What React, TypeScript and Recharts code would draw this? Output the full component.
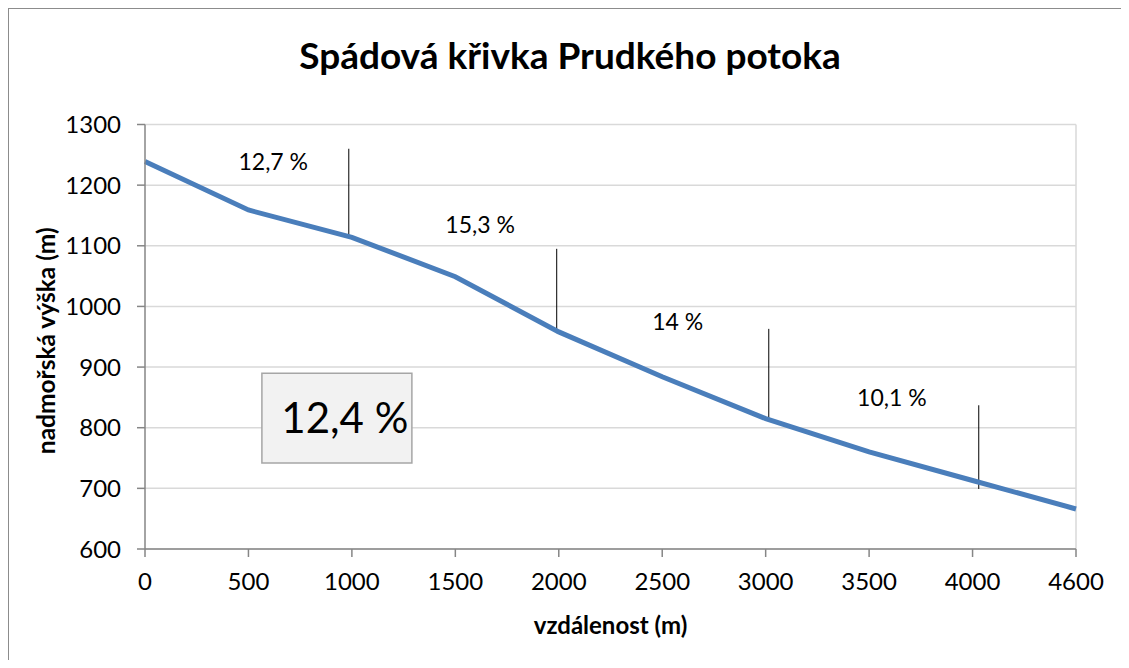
import React from 'react';
import {
  LineChart, Line, XAxis, YAxis, CartesianGrid, ReferenceLine, ReferenceArea, ReferenceDot, Label,
} from 'recharts';

const categories = ['0', '500', '1000', '1500', '2000', '2500', '3000', '3500', '4000', '4600'];
const elevation = [1239, 1159, 1114, 1049, 958, 884, 815, 760, 713, 666];
const yTicks = [600, 700, 800, 900, 1000, 1100, 1200, 1300];

// slope annotation marks (x in category index units, y in metres)
const markX = [1.97, 3.98, 6.03, 8.06];
const markTop = [1260, 1095, 963, 837];
const markBottom = [1116, 956, 813, 699];
const slopeLabels = ['12,7 %', '15,3 %', '14 %', '10,1 %'];
const slopeLabelX = [1.24, 3.24, 5.15, 7.22];
const slopeLabelY = [1238, 1134, 974, 849];

const averageLabel = '12,4 %';
const averageBox = { x1: 1.13, x2: 2.58, y1: 742, y2: 890 };

const data = categories.map((c, i) => ({ i, c, v: elevation[i] }));

const FONT = 'Lato, "Open Sans", sans-serif';

export default function App() {
  return (
    <div
      style={{
        position: 'relative',
        width: 1112,
        height: 651,
        borderTop: '1px solid #8c8c8c',
        borderLeft: '1px solid #8c8c8c',
        borderRight: '1px solid #8c8c8c',
        fontFamily: FONT,
        background: '#fff',
      }}
    >
      <div
        style={{
          position: 'absolute',
          left: 10,
          right: 0,
          top: 24,
          textAlign: 'center',
          fontFamily: FONT,
          fontWeight: 700,
          fontSize: 37,
          color: '#000',
          lineHeight: '44px',
        }}
      >
        Spádová křivka Prudkého potoka
      </div>
      <LineChart
        width={1112}
        height={643}
        data={data}
        margin={{ top: 115.5, right: 45, bottom: 18, left: 0 }}
        style={{ fontFamily: FONT }}
      >
        <CartesianGrid vertical={false} stroke="#d9d9d9" strokeWidth={1.5} />
        <ReferenceLine x={9} stroke="#d9d9d9" strokeWidth={1.5} />
        <XAxis
          dataKey="i"
          type="number"
          domain={[0, 9]}
          ticks={categories.map((_, i) => i)}
          tickFormatter={(i: number) => categories[i]}
          stroke="#868686"
          strokeWidth={1.5}
          tickSize={8}
          tickMargin={16}
          tick={{ fill: '#000', fontSize: 24, fontFamily: FONT }}
          height={85}
          interval={0}
        >
          <Label
            value="vzdálenost (m)"
            position="insideBottom"
            offset={0}
            style={{ fontWeight: 700, fontSize: 24, fill: '#000', fontFamily: FONT }}
          />
        </XAxis>
        <YAxis
          domain={[600, 1300]}
          ticks={yTicks}
          stroke="#868686"
          strokeWidth={1.5}
          tickSize={8}
          tickMargin={16}
          width={136}
          tick={{ fill: '#000', fontSize: 24, fontFamily: FONT }}
          interval={0}
        >
          <Label
            content={(props: any) => {
              const vb = props.viewBox || {};
              const cx = vb.x + 36;
              const cy = vb.y + vb.height / 2 + 4;
              return (
                <text
                  x={cx}
                  y={cy}
                  transform={`rotate(-90, ${cx}, ${cy})`}
                  textAnchor="middle"
                  dominantBaseline="central"
                  style={{ fontWeight: 700, fontSize: 24.5, fill: '#000', fontFamily: FONT }}
                >
                  nadmořská výška (m)
                </text>
              );
            }}
          />
        </YAxis>
        <ReferenceArea
          x1={averageBox.x1}
          x2={averageBox.x2}
          y1={averageBox.y1}
          y2={averageBox.y2}
          fill="#f2f2f2"
          fillOpacity={1}
          stroke="#a6a6a6"
          strokeWidth={1.5}
        >
          <Label
            value={averageLabel}
            position="center"
            dx={8}
            style={{ fontSize: 42, fill: '#000', fontFamily: FONT }}
          />
        </ReferenceArea>
        {markX.map((x, k) => (
          <ReferenceLine
            key={'m' + k}
            segment={[{ x, y: markTop[k] }, { x, y: markBottom[k] }]}
            stroke="#000"
            strokeWidth={1}
          />
        ))}
        <Line
          type="linear"
          dataKey="v"
          stroke="#4a7ebb"
          strokeWidth={5}
          dot={false}
          isAnimationActive={false}
        />
        {slopeLabels.map((t, k) => (
          <ReferenceDot
            key={'l' + k}
            x={slopeLabelX[k]}
            y={slopeLabelY[k]}
            r={0}
            fill="none"
            stroke="none"
          >
            <Label
              value={t}
              position="center"
              style={{ fontSize: 23, fill: '#000', fontFamily: FONT }}
            />
          </ReferenceDot>
        ))}
      </LineChart>
    </div>
  );
}
